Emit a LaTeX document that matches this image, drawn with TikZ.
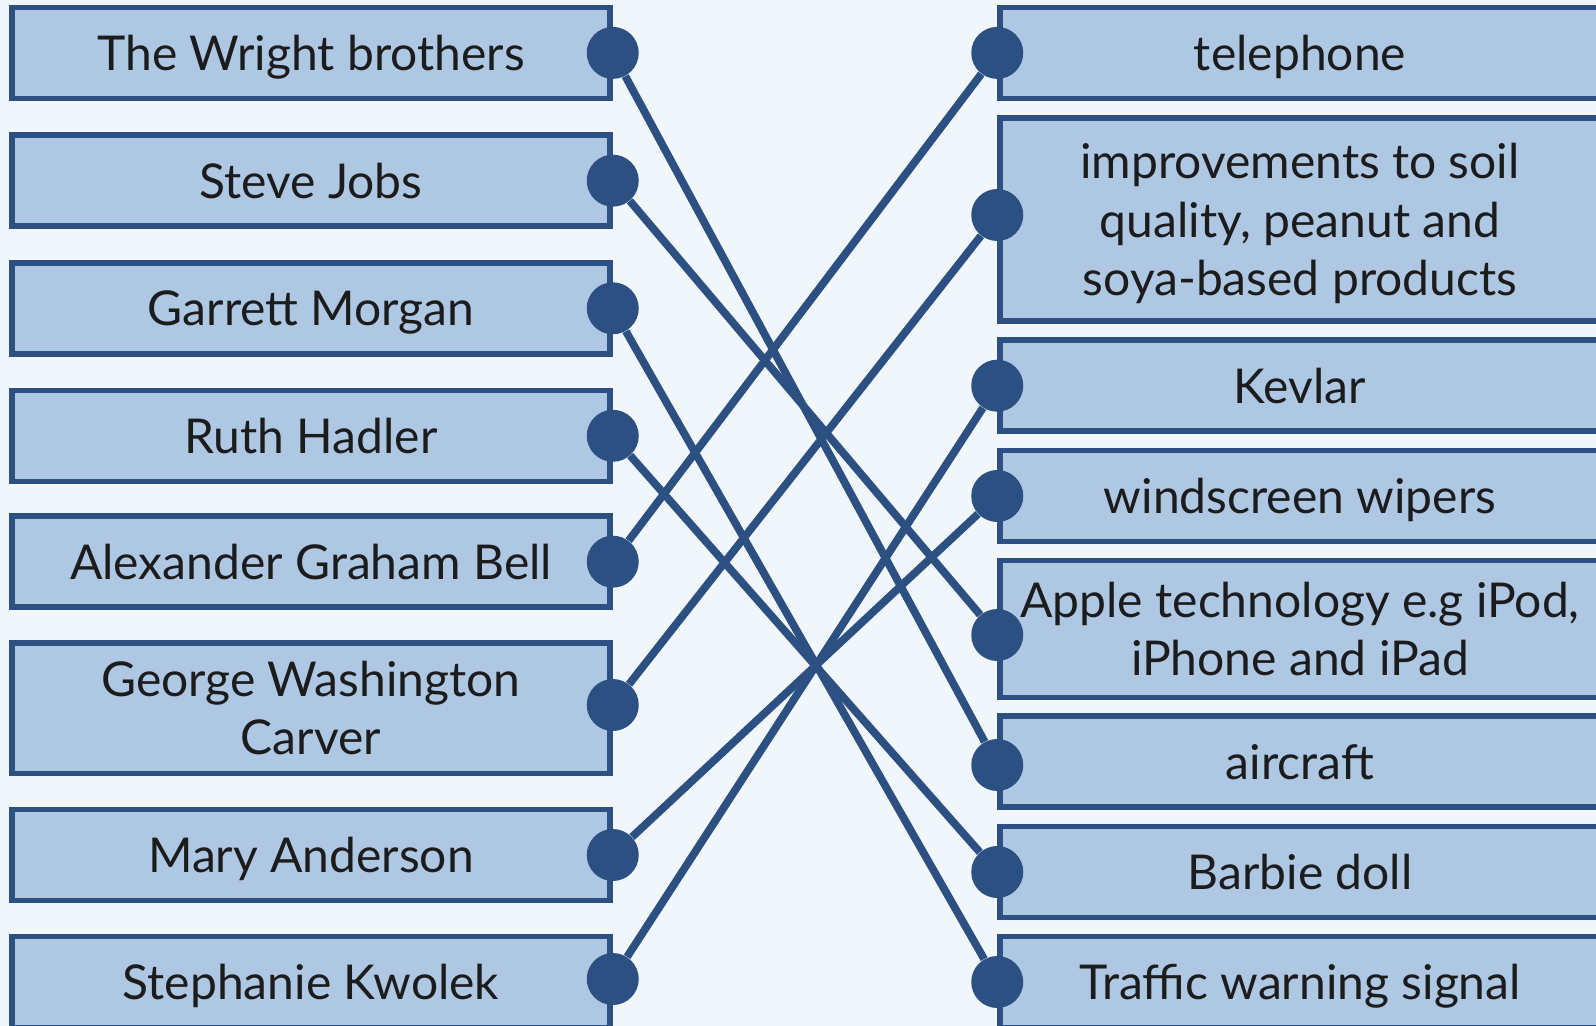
\documentclass[tikz,border=0pt]{standalone}
\usepackage{fontspec}
\setmainfont{Lato}
\usetikzlibrary{positioning}
\definecolor{pagebg}{HTML}{F1F6FB}
\definecolor{cardfill}{HTML}{AEC8E4}
\definecolor{cardline}{HTML}{2B5081}
\definecolor{cardtext}{HTML}{1C1C1C}
\begin{document}
\begin{tikzpicture}[x=0.5pt, y=-0.5pt,
    card/.style={draw=cardline, fill=cardfill, line width=2.75pt, inner sep=0pt,
      minimum width=299pt, minimum height=45.5pt, align=center, text=cardtext,
      text depth=0pt, font=\fontsize{24}{29.25}\selectfont},
    dot/.style={circle, fill=cardline, minimum size=26pt, inner sep=0pt},
    link/.style={cardline, line width=3.9pt}]
  \useasboundingbox (0,0) rectangle (1596,1026);
  \fill[pagebg] (0,0) rectangle (1596,1026);

  % inventors
  \node[card] (wright) at (311,52.9) {The Wright brothers};
  \node[card] (jobs) at (311,180.7) {Steve Jobs};
  \node[card] (morgan) at (311,308.3) {Garrett Morgan};
  \node[card] (handler) at (311,435.8) {Ruth Hadler};
  \node[card] (bell) at (311,561.7) {Alexander Graham Bell};
  \node[card, minimum height=65.25pt] (carver) at (311,708) {George Washington\\Carver};
  \node[card] (anderson) at (311,855) {Mary Anderson};
  \node[card] (kwolek) at (311,982) {Stephanie Kwolek};

  % inventions
  \node[card, minimum width=300pt] (phone) at (1300,52.9) {telephone};
  \node[card, minimum width=300pt, minimum height=101.5pt] (soil) at (1300,219.6) {improvements to soil\\quality, peanut and\\soya-based products};
  \node[card, minimum width=300pt] (kevlar) at (1300,385.7) {Kevlar};
  \node[card, minimum width=300pt] (wipers) at (1300,496) {windscreen wipers};
  \node[card, minimum width=300pt, minimum height=68.3pt] (apple) at (1300,629) {Apple technology e.g iPod,\\iPhone and iPad};
  \node[card, minimum width=300pt] (aircraft) at (1300,761.5) {aircraft};
  \node[card, minimum width=300pt] (barbie) at (1300,872) {Barbie doll};
  \node[card, minimum width=300pt] (signal) at (1300,982) {Traffic warning signal};

  % pins
  \node[dot] (wright-pin) at (wright.east) {};
  \node[dot] (jobs-pin) at (jobs.east) {};
  \node[dot] (morgan-pin) at (morgan.east) {};
  \node[dot] (handler-pin) at (handler.east) {};
  \node[dot] (bell-pin) at (bell.east) {};
  \node[dot] (carver-pin) at ([yshift=1.5pt]carver.east) {};
  \node[dot] (anderson-pin) at (anderson.east) {};
  \node[dot] (kwolek-pin) at ([yshift=1.5pt]kwolek.east) {};

  \node[dot] (phone-pin) at (phone.west) {};
  \node[dot] (soil-pin) at ([yshift=2.3pt]soil.west) {};
  \node[dot] (kevlar-pin) at (kevlar.west) {};
  \node[dot] (wipers-pin) at (wipers.west) {};
  \node[dot] (apple-pin) at ([yshift=-3pt]apple.west) {};
  \node[dot] (aircraft-pin) at ([yshift=-1.75pt]aircraft.west) {};
  \node[dot] (barbie-pin) at (barbie.west) {};
  \node[dot] (signal-pin) at (signal.west) {};

  % matches
  \draw[link] (wright-pin) -- (aircraft-pin);
  \draw[link] (jobs-pin) -- (apple-pin);
  \draw[link] (morgan-pin) -- (signal-pin);
  \draw[link] (handler-pin) -- (barbie-pin);
  \draw[link] (bell-pin) -- (phone-pin);
  \draw[link] (carver-pin) -- (soil-pin);
  \draw[link] (anderson-pin) -- (wipers-pin);
  \draw[link] (kwolek-pin) -- (kevlar-pin);
\end{tikzpicture}
\end{document}
